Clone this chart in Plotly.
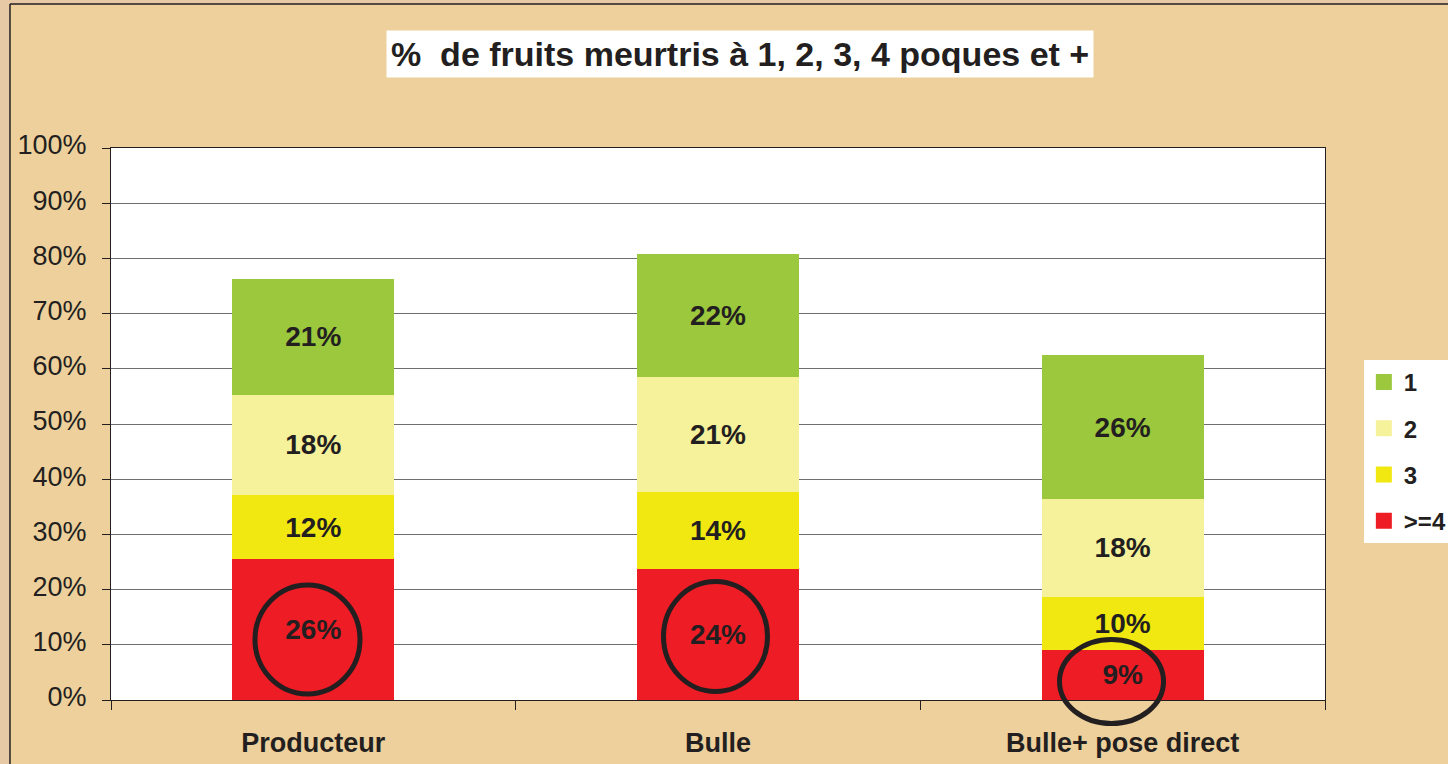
import plotly.graph_objects as go

# categories and stacked series (% of fruits bruised by number of bruises)
categories = ["Producteur", "Bulle", "Bulle+ pose direct"]
series_names = [">=4", "3", "2", "1"]
vals_4plus = [25.5, 23.7, 9.1]
vals_3 = [11.6, 14.0, 9.6]
vals_2 = [18.2, 20.8, 17.7]
vals_1 = [21.0, 22.3, 26.1]
y_ticks = [0, 10, 20, 30, 40, 50, 60, 70, 80, 90, 100]

colors = ["#EE1C24", "#F2E811", "#F6F19B", "#9BC83C"]
FONT = "Liberation Sans, Arial, sans-serif"
INK = "#231F20"

fig = go.Figure()
for name, vals, col in zip(series_names, [vals_4plus, vals_3, vals_2, vals_1], colors):
    fig.add_trace(
        go.Bar(
            x=categories,
            y=vals,
            name=name,
            showlegend=False,
            marker=dict(color=col, line=dict(width=0)),
            texttemplate="%{y:.0f}%",
            textposition="inside",
            insidetextanchor="middle",
            textangle=0,
            constraintext="none",
            textfont=dict(family=FONT, size=28, color=INK, weight="bold"),
            hoverinfo="skip",
        )
    )

# legend entries with bigger square swatches (1 on top, >=4 at bottom)
for rank, (name, col) in enumerate(zip(series_names, colors)):
    fig.add_trace(
        go.Scatter(
            x=[None], y=[None], mode="markers", name=name,
            legendgroup=name, legendrank=10 - rank,
            marker=dict(symbol="square", size=16, color=col),
        )
    )

# circles around the ">=4" labels, plus the outer frame strips
circles = [
    (0.1186, 0.0109, 0.2051, 0.2083),
    (0.4551, 0.0154, 0.5408, 0.2147),
    (0.7813, -0.0426, 0.8670, 0.1096),
]
shapes = [
    dict(type="rect", xref="paper", yref="paper", x0=-0.1, x1=-0.0832, y0=-0.2, y1=1.3,
         fillcolor="#E8C9A6", line=dict(width=0), layer="below"),
    dict(type="rect", xref="paper", yref="paper", x0=-0.1, x1=1.2, y0=1.2609, y1=1.3,
         fillcolor="#E8C9A6", line=dict(width=0), layer="below"),
    dict(type="line", xref="paper", yref="paper", x0=-0.0832, x1=-0.0832, y0=-0.2, y1=1.2609,
         line=dict(color=INK, width=1.5)),
    dict(type="line", xref="paper", yref="paper", x0=-0.0832, x1=1.2, y0=1.2609, y1=1.2609,
         line=dict(color=INK, width=1.5)),
]
for x0, y0, x1, y1 in circles:
    shapes.append(dict(type="circle", xref="paper", yref="paper", x0=x0, x1=x1, y0=y0, y1=y1,
                       line=dict(color=INK, width=5)))

fig.update_layout(
    width=1448,
    height=764,
    barmode="stack",
    bargap=0.6,
    paper_bgcolor="#EDD09B",
    plot_bgcolor="white",
    margin=dict(l=111, r=123, t=148, b=64, autoexpand=False),
    font=dict(family=FONT, color=INK),
    showlegend=True,
    legend=dict(
        x=1.032, xanchor="left", y=0.616, yanchor="top",
        bgcolor="white",
        traceorder="grouped",
        tracegroupgap=12,
        itemwidth=30,
        font=dict(family=FONT, size=24, color=INK, weight="bold"),
    ),
    xaxis=dict(
        showgrid=False,
        showline=True, linecolor=INK, linewidth=1, mirror=True,
        ticks="outside", tickson="boundaries", ticklen=9, tickcolor=INK,
        tickfont=dict(family=FONT, size=27, color=INK, weight="bold"),
        ticklabelstandoff=19,
    ),
    yaxis=dict(
        range=[0, 100],
        tickvals=y_ticks,
        ticktext=[f"{v}%" for v in y_ticks],
        showgrid=True, gridcolor="#6E6E6E", gridwidth=1,
        showline=True, linecolor=INK, linewidth=1, mirror=True,
        zeroline=False,
        ticks="outside", ticklen=8, tickcolor=INK,
        tickfont=dict(family=FONT, size=27, color=INK),
        ticklabelstandoff=10,
        ticklabelshift=-3,
    ),
    shapes=shapes,
    annotations=[
        dict(
            text="%  de fruits meurtris à 1, 2, 3, 4 poques et +",
            xref="paper", yref="paper", x=0.518, y=1.171,
            xanchor="center", yanchor="middle", showarrow=False,
            bgcolor="white", borderpad=4,
            font=dict(family=FONT, size=34, color=INK, weight="bold"),
        )
    ],
)

fig.write_html(
    "out.html",
    config={"displayModeBar": False},
    post_script="document.body.style.margin='0';",
)
